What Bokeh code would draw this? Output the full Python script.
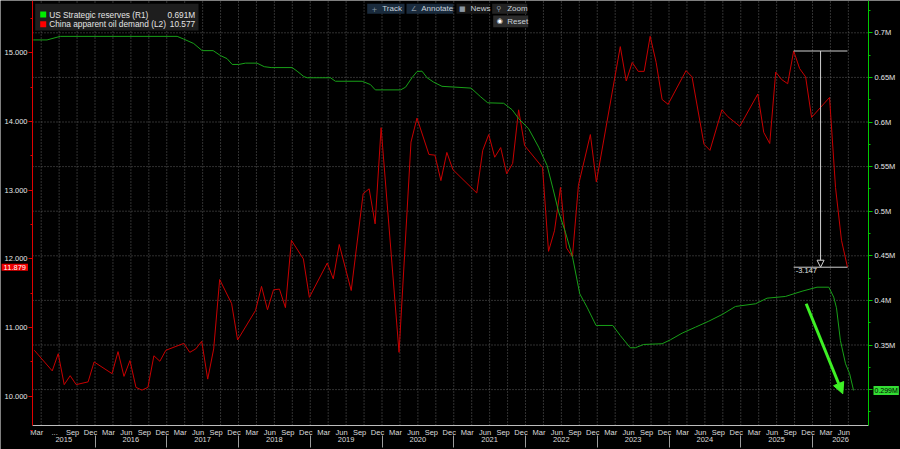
from datetime import date
from bokeh.plotting import figure
from bokeh.models import (Range1d, LinearAxis, FixedTicker, PrintfTickFormatter,
                          CustomJSTickFormatter, Label, BoxAnnotation, Arrow, NormalHead)
from bokeh.embed import file_html
from bokeh.resources import INLINE

FONT = "Liberation Sans"

# ---------------- data ----------------
# China apparent oil demand (left axis, L2), monthly
china_months = [
    "2015-02", "2015-05", "2015-06", "2015-07", "2015-08", "2015-09", "2015-11", "2015-12",
    "2016-03", "2016-04", "2016-05", "2016-06", "2016-07", "2016-08", "2016-09", "2016-10", "2016-11", "2016-12",
    "2017-03", "2017-04", "2017-05", "2017-06", "2017-07", "2017-08", "2017-09", "2017-11", "2017-12",
    "2018-03", "2018-04", "2018-05", "2018-06", "2018-07", "2018-08", "2018-09", "2018-11", "2018-12",
    "2019-03", "2019-04", "2019-05", "2019-07", "2019-09", "2019-10", "2019-11", "2019-12",
    "2020-03", "2020-05", "2020-06", "2020-08", "2020-09", "2020-10", "2020-11", "2020-12",
    "2021-04", "2021-05", "2021-06", "2021-07", "2021-08", "2021-09", "2021-10", "2021-11", "2021-12",
    "2022-03", "2022-04", "2022-05", "2022-06", "2022-07", "2022-08", "2022-09", "2022-11", "2022-12",
    "2023-04", "2023-05", "2023-06", "2023-07", "2023-08", "2023-09", "2023-10", "2023-11", "2023-12",
    "2024-03", "2024-04", "2024-06", "2024-07", "2024-09", "2024-10", "2024-12",
    "2025-03", "2025-04", "2025-05", "2025-06", "2025-07", "2025-08", "2025-09", "2025-10", "2025-11", "2025-12",
    "2026-03", "2026-04", "2026-05", "2026-06",
]
china_demand = [
    10.67, 10.37, 10.62, 10.17, 10.30, 10.17, 10.21, 10.50,
    10.33, 10.65, 10.29, 10.52, 10.13, 10.09, 10.13, 10.59, 10.51, 10.67,
    10.77, 10.64, 10.69, 10.80, 10.25, 10.69, 11.70, 11.35, 10.82,
    11.25, 11.60, 11.26, 11.55, 11.56, 11.29, 12.27, 12.00, 11.44,
    11.94, 11.71, 12.21, 11.54, 12.95, 13.02, 12.51, 13.91,
    10.64, 13.70, 14.05, 13.52, 13.51, 13.14, 13.55, 13.30,
    12.96, 13.58, 13.81, 13.48, 13.62, 13.24, 13.39, 14.17, 13.65,
    13.33, 12.11, 12.41, 13.04, 12.16, 12.03, 13.07, 13.81, 13.12,
    15.09, 14.59, 14.86, 14.73, 14.73, 15.24, 14.86, 14.32, 14.25,
    14.74, 14.65, 13.67, 13.58, 14.17, 14.07, 13.93,
    14.40, 13.84, 13.68, 14.72, 14.61, 14.55, 15.026, 14.77, 14.65, 14.06,
    14.35, 13.04, 12.27, 11.879,
]

# US Strategic reserves (right axis, R1), millions of barrels
spr_dates = [
    "2015-02-21", "2015-05-02", "2015-07-08", "2017-02-23", "2017-03-28", "2017-05-18", "2017-06-30",
    "2017-08-25", "2017-10-01", "2017-11-04", "2017-11-30", "2018-01-02", "2018-02-05", "2018-04-05",
    "2018-05-12", "2018-06-16", "2018-10-01", "2018-10-26", "2018-11-29", "2018-12-16", "2019-04-14",
    "2019-05-09", "2019-09-22", "2019-11-03", "2019-11-28", "2020-04-05", "2020-04-30", "2020-06-03",
    "2020-06-28", "2020-07-23", "2020-08-18", "2020-09-21", "2020-11-02", "2021-03-30", "2021-05-16",
    "2021-06-23", "2021-09-12", "2021-10-25", "2021-11-28", "2022-01-17", "2022-03-09", "2022-04-21",
    "2022-05-21", "2022-06-19", "2022-07-23", "2022-08-29", "2022-10-04", "2022-11-10", "2022-12-26",
    "2023-03-21", "2023-04-28", "2023-06-18", "2023-07-14", "2023-08-25", "2023-11-27", "2024-01-08",
    "2024-03-08", "2024-05-15", "2024-07-22", "2024-09-28", "2024-12-05", "2025-03-17", "2025-05-15",
    "2025-08-16", "2025-11-09", "2026-01-24", "2026-03-25", "2026-04-19", "2026-05-03", "2026-05-23",
    "2026-06-18", "2026-07-09", "2026-07-29",
]
spr_level = [
    0.692, 0.692, 0.696, 0.696, 0.693, 0.688, 0.680,
    0.680, 0.6745, 0.671, 0.6645, 0.6645, 0.666, 0.666,
    0.662, 0.661, 0.661, 0.657, 0.651, 0.6496, 0.6496,
    0.6457, 0.6457, 0.642, 0.636, 0.636, 0.639, 0.650,
    0.6566, 0.657, 0.6496, 0.6446, 0.640, 0.638, 0.6286,
    0.6215, 0.621, 0.6137, 0.6036, 0.5924, 0.5718, 0.5512,
    0.525, 0.499, 0.4765, 0.4478, 0.4074, 0.3924, 0.3719,
    0.3719, 0.3607, 0.3469, 0.3469, 0.3506, 0.3514, 0.3558,
    0.3633, 0.370, 0.3767, 0.3842, 0.3932, 0.3962, 0.4025,
    0.4044, 0.4103, 0.4148, 0.4148, 0.4036, 0.3917, 0.355,
    0.329, 0.3178, 0.299,
]

legend_names = ["US Strategic reserves (R1)", "China apparent oil demand (L2)"]
legend_values = ["0.691M", "10.577"]

demand_ticks = [10, 11, 12, 13, 14, 15]
demand_minor = [9.5, 10.5, 11.5, 12.5, 13.5, 14.5, 15.5]
spr_ticks = [0.3, 0.35, 0.4, 0.45, 0.5, 0.55, 0.6, 0.65, 0.7]
spr_minor = [0.275, 0.325, 0.375, 0.425, 0.475, 0.525, 0.575, 0.625, 0.675, 0.725]
month_names = {3: "Mar", 6: "Jun", 9: "Sep", 12: "Dec"}
years = list(range(2015, 2027))

# measurement annotation (user drawn) and arrow annotation
measure_from, measure_to = "2025-09", "2026-06"
arrow_from = (2025.912, 0.3962)
arrow_to = (2026.422, 0.2953)

# ---------------- helpers ----------------
def month_pos(s):
    y, m = map(int, s.split("-"))
    return y + (m - 1 + 0.85) / 12.0

def day_pos(s):
    d = date.fromisoformat(s)
    start = date(d.year, 1, 1)
    n = (date(d.year + 1, 1, 1) - start).days
    return d.year + (d - start).days / n

red_x = [month_pos(s) for s in china_months]
green_x = [day_pos(s) for s in spr_dates]

# ---------------- layout calibration (pixel -> data) ----------------
W, H = 900, 449
PX_L, PX_R, PY_T, PY_B = 32, 868, 0, 425   # plot area inside the canvas

def t_at(px):
    return 2016 + (px - 94.5) / 71.75

def L_at(py):
    return 15 - (py - 52.3) / 68.7

def R_at(py):
    return 0.7 - (py - 32.3) * 0.05 / 44.6

def sy(py):  # screen units measured from canvas bottom
    return H - py

X0, X1 = t_at(PX_L), t_at(PX_R)
last_t = max(green_x[-1], red_x[-1])

p = figure(width=W, height=H, x_range=Range1d(t_at(0), t_at(W)), y_range=Range1d(L_at(H), L_at(0)),
           x_axis_type=None, y_axis_type=None, toolbar_location=None, tools="",
           output_backend="svg", title=None, min_border=0,
           background_fill_color="black", border_fill_color="black", outline_line_color=None)
p.extra_y_ranges = {"right": Range1d(R_at(H), R_at(0))}

# grid lines (dotted), limited to the plot area
GRID = "#606060"
quarter_ticks = [y + q / 4 for y in years for q in range(4) if X0 < y + q / 4 < last_t]
p.segment(x0=quarter_ticks, x1=quarter_ticks, y0=[L_at(PY_B)] * len(quarter_ticks),
          y1=[L_at(PY_T)] * len(quarter_ticks), line_color=GRID, line_dash="1 2", line_width=1)
p.segment(x0=[X0] * len(spr_ticks), x1=[X1] * len(spr_ticks), y0=spr_ticks, y1=spr_ticks,
          y_range_name="right", line_color=GRID, line_dash="1 2", line_width=1)

def style_axis(ax, line_color, label_color="#e6e6e6"):
    ax.axis_line_color = line_color
    ax.major_tick_line_color = line_color
    ax.minor_tick_line_color = line_color
    ax.major_label_text_font = FONT
    ax.major_label_text_font_size = "7.5px"
    ax.major_label_text_color = label_color

# left axis
yl = LinearAxis(ticker=FixedTicker(ticks=demand_ticks, minor_ticks=demand_minor),
                formatter=PrintfTickFormatter(format="%.3f"),
                fixed_location=t_at(PX_L), bounds=(L_at(PY_B), L_at(PY_T)))
style_axis(yl, "#e00000")
yl.major_tick_out, yl.major_tick_in = 4, 0
yl.minor_tick_out, yl.minor_tick_in = 2, 0
yl.major_label_standoff = 1
p.add_layout(yl, "left")

# right axis
yr = LinearAxis(y_range_name="right", ticker=FixedTicker(ticks=spr_ticks, minor_ticks=spr_minor),
                formatter=CustomJSTickFormatter(code="return (Math.round(tick*1000)/1000).toString() + 'M';"),
                fixed_location=t_at(PX_R), bounds=(R_at(PY_B), R_at(PY_T)))
style_axis(yr, "#00c800")
yr.major_tick_out, yr.major_tick_in = 4, 0
yr.minor_tick_out, yr.minor_tick_in = 2, 0
yr.major_label_standoff = 2
p.add_layout(yr, "right")

# bottom axes: months, year separators, years
month_tick_pos, month_tick_labels = [], []
for y in years:
    for m in (3, 6, 9, 12):
        t = y + (m - 1 + 0.25) / 12
        if X0 < t < last_t:
            month_tick_pos.append(t)
            month_tick_labels.append("..." if (y == 2015 and m == 6) else month_names[m])

xm = LinearAxis(ticker=FixedTicker(ticks=month_tick_pos),
                formatter=CustomJSTickFormatter(args=dict(pos=month_tick_pos, lab=month_tick_labels), code="""
let best = 0, bd = 1e9;
for (let i = 0; i < pos.length; i++) { const d = Math.abs(pos[i] - tick); if (d < bd) { bd = d; best = i; } }
return lab[best];"""),
                fixed_location=L_at(PY_B), bounds=(X0, X1))
style_axis(xm, "#bdbdbd", "#dcdcdc")
xm.major_tick_out = xm.major_tick_in = 0
xm.minor_tick_out = xm.minor_tick_in = 0
xm.major_label_standoff = 2
p.add_layout(xm, "below")

year_bounds = [float(y) for y in years if X0 < y < X1]
xs = LinearAxis(ticker=FixedTicker(ticks=year_bounds),
                formatter=CustomJSTickFormatter(code="return '';"),
                fixed_location=L_at(435), bounds=(X0, X1))
style_axis(xs, None)
xs.major_tick_line_color = "#9a9a9a"
xs.major_tick_out, xs.major_tick_in = 12, 0
xs.minor_tick_out = xs.minor_tick_in = 0
xs.major_label_text_font_size = "0px"
p.add_layout(xs, "below")

year_centers = [(max(y, X0) + min(y + 1, X1)) / 2 for y in years]
xy = LinearAxis(ticker=FixedTicker(ticks=year_centers),
                formatter=CustomJSTickFormatter(code="return String(Math.floor(tick));"),
                fixed_location=L_at(434), bounds=(X0, X1))
style_axis(xy, None, "#dcdcdc")
xy.major_tick_out = xy.major_tick_in = 0
xy.minor_tick_out = xy.minor_tick_in = 0
xy.major_label_standoff = 2
p.add_layout(xy, "below")

# series
p.line(red_x, china_demand, line_color="#c80000", line_width=1)
p.line(green_x, spr_level, line_color="#18a018", line_width=1, y_range_name="right")

# measurement annotation
i0, i1 = china_months.index(measure_from), china_months.index(measure_to)
mx0, mx1 = red_x[i0], red_x[i1]
my0, my1 = china_demand[i0], china_demand[i1]
MEAS = "#d0d0d0"
p.segment(x0=[mx0, mx0], y0=[my0, my1], x1=[mx1, mx1], y1=[my0, my1], line_color=MEAS, line_width=1)
p.add_layout(Arrow(end=NormalHead(size=7, fill_color="black", line_color=MEAS, line_width=1),
                   x_start=(mx0 + mx1) / 2, y_start=my0, x_end=(mx0 + mx1) / 2, y_end=my1,
                   line_color=MEAS, line_width=1))
p.add_layout(Label(x=mx0, y=my1, text=f"{my1 - my0:.3f}", x_offset=2, y_offset=-1,
                   text_baseline="top", text_align="left", text_font=FONT,
                   text_font_size="7.5px", text_color="#e0e0e0"))

# green arrow
AG = "#3ef025"
p.add_layout(Arrow(end=NormalHead(size=11, fill_color=AG, line_color=AG, line_width=1),
                   x_start=arrow_from[0], y_start=arrow_from[1], x_end=arrow_to[0], y_end=arrow_to[1],
                   y_range_name="right", line_color=AG, line_width=3))

# value tags on axes
p.add_layout(Label(x=27.5, x_units="screen", y=china_demand[-1], text=f"{china_demand[-1]:.3f}",
                   text_align="right", text_baseline="middle", text_font=FONT, text_font_size="7.5px",
                   text_color="white", background_fill_color="#ee0000", padding=(2, 1)))
p.add_layout(Label(x=873, x_units="screen", y=spr_level[-1], y_range_name="right",
                   text=f"{spr_level[-1]:.3f}M", text_align="left", text_baseline="middle",
                   text_font=FONT, text_font_size="7px", text_color="black",
                   background_fill_color="#33dd33", padding=(1, 1)))

# legend box
p.add_layout(BoxAnnotation(left=34.7, right=198, top=sy(3.3), bottom=sy(30),
                           left_units="screen", right_units="screen", top_units="screen",
                           bottom_units="screen", fill_color="#1e1e1e", fill_alpha=1, line_color=None))
for name, val, col, cy in zip(legend_names, legend_values, ["#00ee00", "#ff0000"], [14.0, 23.7]):
    p.add_layout(BoxAnnotation(left=39.7, right=45.7, top=sy(cy - 3), bottom=sy(cy + 3),
                               left_units="screen", right_units="screen", top_units="screen",
                               bottom_units="screen", fill_color=col, fill_alpha=1, line_color=None))
    p.add_layout(Label(x=48.7, y=sy(cy), x_units="screen", y_units="screen", text=name,
                       text_align="left", text_baseline="middle", text_font=FONT,
                       text_font_size="8.3px", text_color="#e4e4e4"))
    p.add_layout(Label(x=194.7, y=sy(cy), x_units="screen", y_units="screen", text=val,
                       text_align="right", text_baseline="middle", text_font=FONT,
                       text_font_size="8.3px", text_color="#e4e4e4"))

# toolbar buttons (canvas px)
buttons = [
    ("Track", "+", 366.7, 404.0, 3.3, 13.3, "#1a2b3d", 374.0, 381.7),
    ("Annotate", "\u2220", 406.0, 452.7, 3.3, 13.3, "#1a2b3d", 413.3, 420.7),
    ("News", "\u25a0", 456.0, 488.3, 3.3, 13.3, "#161616", 461.7, 470.0),
    ("Zoom", "\u26b2", 491.7, 526.7, 3.3, 13.3, "#232323", 498.3, 506.7),
    ("Reset", "\u25c9", 492.7, 527.7, 15.0, 26.7, "#2c2c2c", 499.2, 506.7),
]
for text, icon, bx0, bx1, by0, by1, bg, ix, tx in buttons:
    p.add_layout(BoxAnnotation(left=bx0, right=bx1, top=sy(by0), bottom=sy(by1),
                               left_units="screen", right_units="screen", top_units="screen",
                               bottom_units="screen", fill_color=bg, fill_alpha=1, line_color=None))
    cy = (by0 + by1) / 2
    p.add_layout(Label(x=ix, y=sy(cy), x_units="screen", y_units="screen", text=icon,
                       text_align="center", text_baseline="middle", text_font="DejaVu Sans",
                       text_font_size="7px",
                       text_color="#ffffff" if text == "Reset" else "#8a96a2"))
    p.add_layout(Label(x=tx, y=sy(cy), x_units="screen", y_units="screen", text=text,
                       text_align="left", text_baseline="middle", text_font=FONT,
                       text_font_size="8px", text_color="#c9d2da"))

open("out.html", "w").write(file_html(p, INLINE))
